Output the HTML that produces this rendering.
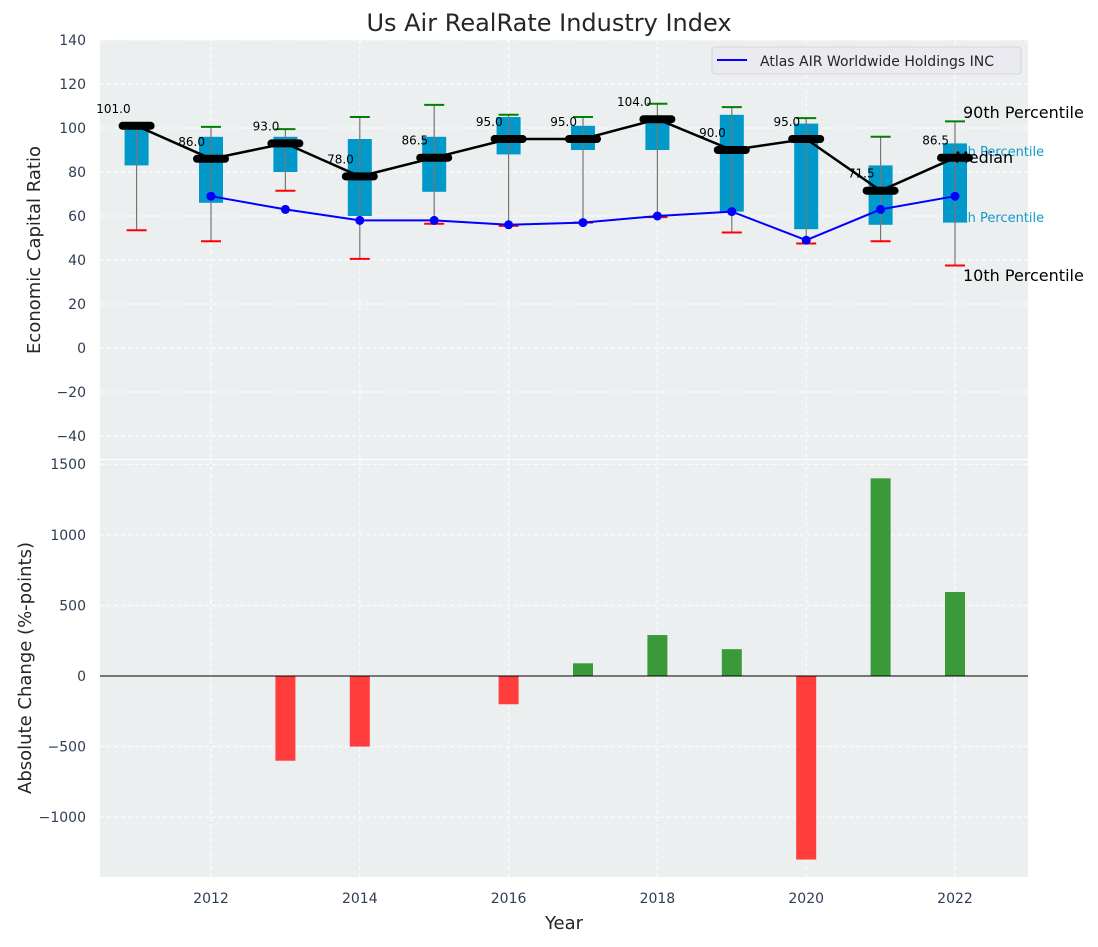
<!DOCTYPE html>
<html><head><meta charset="utf-8"><style>
body{margin:0;background:#fff;font-family:"Liberation Sans","DejaVu Sans",sans-serif;}
svg text{font-family:"DejaVu Sans","Liberation Sans",sans-serif;}
</style></head><body>
<svg id="c" width="1098" height="942" xmlns="http://www.w3.org/2000/svg"></svg>
<script>
const years=[2011,2012,2013,2014,2015,2016,2017,2018,2019,2020,2021,2022];
const medians=[101,86,93,78,86.5,95,95,104,90,95,71.5,86.5];
const q1=[83,66,80,60,71,88,90,90,62,54,56,57];
const q3=[102,96,96,95,96,105,101,104,106,102,83,93];
const p90=[102,100.5,99.5,105,110.5,106,105,111,109.5,104.5,96,103];
const p10=[53.5,48.5,71.5,40.5,56.5,55.5,57,59.5,52.5,47.5,48.5,37.5];
const companyYears=[2012,2013,2014,2015,2016,2017,2018,2019,2020,2021,2022];
const companyValues=[69,63,58,58,56,57,60,62,49,63,69];
const changeYears=[2013,2014,2016,2017,2018,2019,2020,2021,2022];
const changeValues=[-600,-500,-200,90,290,190,-1300,1400,595];
const topTicks=[-40,-20,0,20,40,60,80,100,120,140];
const botTicks=[-1000,-500,0,500,1000,1500];
const xTicks=[2012,2014,2016,2018,2020,2022];

const NS="http://www.w3.org/2000/svg";
const svg=document.getElementById('c');
function el(tag,attrs,parent){const e=document.createElementNS(NS,tag);for(const k in attrs)e.setAttribute(k,attrs[k]);(parent||svg).appendChild(e);return e;}
const X0=100,X1=1028;
const xs=v=>99.4+(v-2010.5)*74.4;
const yt=v=>40+(140-v)*2.2;
const yb=v=>676-v*(70.6/500);

let r=el('rect',{x:X0,y:40,width:X1-X0,height:419,fill:'#ebeff0'});

r=el('rect',{x:X0,y:460,width:X1-X0,height:417,fill:'#ebeff0'});


for(const t of topTicks){
  el('line',{x1:X0,x2:X1,y1:yt(t),y2:yt(t),stroke:'#fff','stroke-dasharray':'4,3','stroke-width':1});
  const tx=el('text',{x:86,y:yt(t)+5,'text-anchor':'end','font-size':14,fill:'#2e3e55'});tx.textContent=t<0?'\u2212'+(-t):t;
  
}
for(const t of botTicks){
  el('line',{x1:X0,x2:X1,y1:yb(t),y2:yb(t),stroke:'#fff','stroke-dasharray':'4,3','stroke-width':1});
  const tx=el('text',{x:86,y:yb(t)+5,'text-anchor':'end','font-size':14,fill:'#2e3e55'});tx.textContent=t<0?'\u2212'+(-t):t;
  
}
for(const t of xTicks){
  el('line',{x1:xs(t),x2:xs(t),y1:40,y2:459,stroke:'#fff','stroke-dasharray':'4,3'});
  el('line',{x1:xs(t),x2:xs(t),y1:460,y2:877,stroke:'#fff','stroke-dasharray':'4,3'});
  const tx=el('text',{x:xs(t),y:903,'text-anchor':'middle','font-size':14,fill:'#2e3e55'});tx.textContent=t;
  
}

const last=years.length-1,lx=xs(years[last]);
function lab(txt,x,y,size,col,name){const t=el('text',{x:x,y:y,'font-size':size,fill:col});t.textContent=txt;}
lab('75th Percentile',lx-9,156,13,'#139ac8','label-75th');
lab('25th Percentile',lx-9,222,13,'#139ac8','label-25th');

years.forEach((y,i)=>{
  const w=24;
  const b=el('rect',{x:xs(y)-w/2,y:yt(q3[i]),width:w,height:yt(q1[i])-yt(q3[i]),fill:'#0099c9'});
  
  const wl=el('line',{x1:xs(y),x2:xs(y),y1:yt(p90[i]),y2:yt(p10[i]),stroke:'#777','stroke-width':1.2});
  
  const g=el('line',{x1:xs(y)-10,x2:xs(y)+10,y1:yt(p90[i]),y2:yt(p90[i]),stroke:'#008000','stroke-width':2});
  
  const rd=el('line',{x1:xs(y)-10,x2:xs(y)+10,y1:yt(p10[i]),y2:yt(p10[i]),stroke:'#ff0000','stroke-width':2});
  
});
const ml=el('polyline',{points:years.map((y,i)=>xs(y)+','+yt(medians[i])).join(' '),fill:'none',stroke:'#000','stroke-width':2.5});

years.forEach((y,i)=>{
  const m=el('line',{x1:xs(y)-14,x2:xs(y)+14,y1:yt(medians[i]),y2:yt(medians[i]),stroke:'#000','stroke-width':8,'stroke-linecap':'round'});
  
  const t=el('text',{x:xs(y)-6,y:yt(medians[i])-13,'text-anchor':'end','font-size':12,fill:'#000'});t.textContent=medians[i].toFixed(1);
  
});
const cl=el('polyline',{points:companyYears.map((y,i)=>xs(y)+','+yt(companyValues[i])).join(' '),fill:'none',stroke:'#0000ff','stroke-width':2});

companyYears.forEach((y,i)=>{const c=el('circle',{cx:xs(y),cy:yt(companyValues[i]),r:4.5,fill:'#0000ff'});});

lab('90th Percentile',lx+8,118,16,'#000','label-90th');
lab('Median',lx,163,16,'#000','label-median');
lab('10th Percentile',lx+8,281,16,'#000','label-10th');

const lg=el('g',{});
el('rect',{x:712,y:47,width:309,height:27,rx:3,fill:'#eaeaf0',stroke:'#d6d6dc'},lg);
el('line',{x1:717,x2:747,y1:60,y2:60,stroke:'#0000ff','stroke-width':2},lg);
const lt=el('text',{x:760,y:66,'font-size':14,fill:'#262626'},lg);lt.textContent='Atlas AIR Worldwide Holdings INC';

changeYears.forEach((y,i)=>{
  const v=changeValues[i],w=20;
  const b=el('rect',{x:xs(y)-w/2,y:Math.min(yb(v),yb(0)),width:w,height:Math.abs(yb(v)-yb(0)),fill:v<0?'#ff3d3d':'#3a9a3a'});
  
});
el('line',{x1:X0,x2:X1,y1:yb(0),y2:yb(0),stroke:'#000','stroke-width':1});

function t2(txt,x,y,size,rot,name){const t=el('text',{x:x,y:y,'font-size':size,fill:'#262626','text-anchor':'middle'});if(rot)t.setAttribute('transform','rotate(-90 '+x+' '+y+')');t.textContent=txt;}
t2('Us Air RealRate Industry Index',549,31,24,false,'chart-title');
t2('Economic Capital Ratio',40,250,18,true,'top-y-axis-title');
t2('Absolute Change (%-points)',31,668,18,true,'bottom-y-axis-title');
t2('Year',564,929,18,false,'x-axis-title');
</script>
</body></html>
